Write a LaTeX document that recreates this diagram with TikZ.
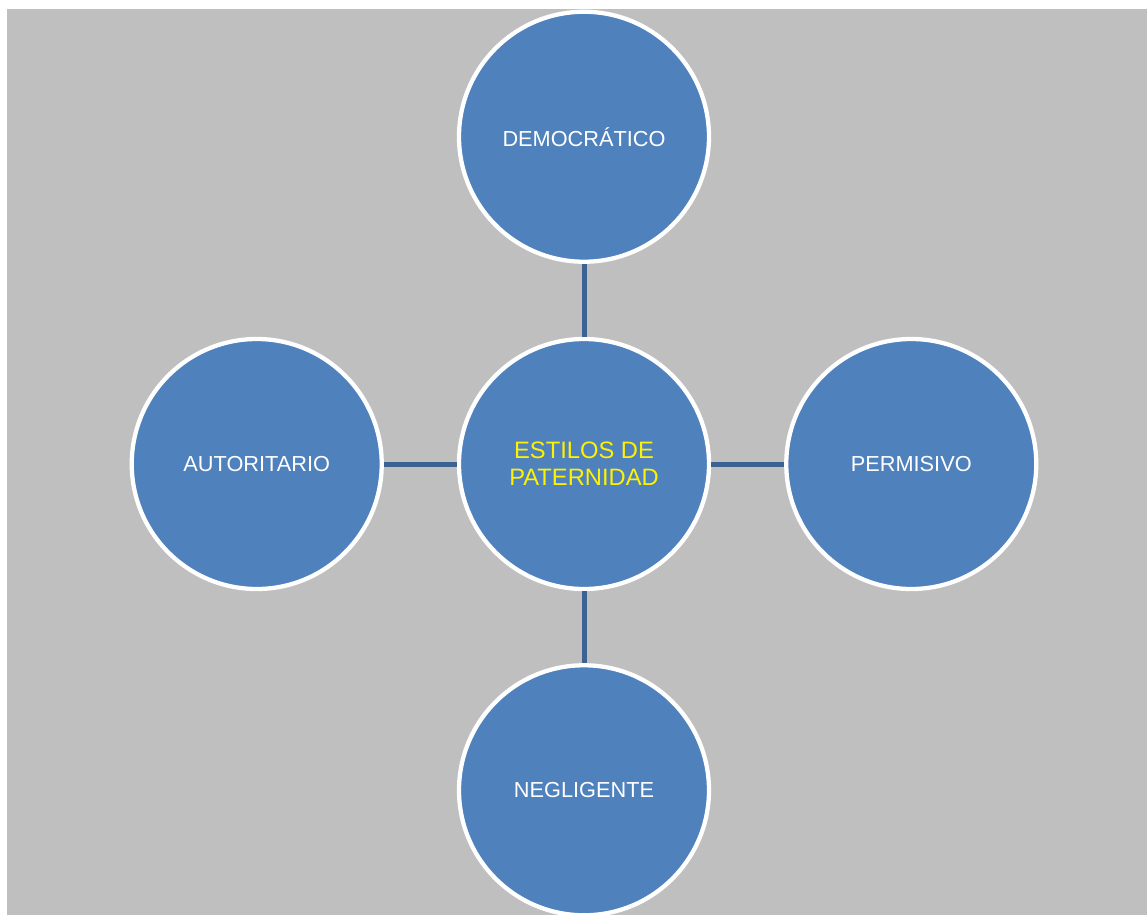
\documentclass[tikz,border=0pt]{standalone}
\usepackage{fontspec}
\setmainfont{Liberation Sans}
\usetikzlibrary{positioning,math}
\definecolor{bgGray}{RGB}{191,191,191}
\definecolor{circBlue}{RGB}{79,129,189}
\definecolor{linkBlue}{RGB}{60,98,148}

\begin{document}
\begin{tikzpicture}[x=0.75pt,y=-0.75pt]

\tikzmath{
	\R = 187.5pt;
}

\tikzset{style circle/.style={
    circle,
    draw=white,
    line width=3.2pt,
    fill=circBlue,
    minimum size=#1,
    inner sep=0pt,
    text=white,
    align=center,
    font=\fontsize{16.3}{19}\selectfont
  },
  style circle/.default=\R,
  link/.style={draw=linkBlue, line width=3.75pt}
}

\clip (0,0) rectangle (1147,915);
\fill[bgGray] (7,9) rectangle (1147,915);

\node[style circle, text=yellow, font=\fontsize{17.8}{20.5}\selectfont] (estilos) at (584,464) {ESTILOS DE\\PATERNIDAD};
\node[style circle, above=54.75pt of estilos] (democratico) {DEMOCRÁTICO};
\node[style circle, left=54.75pt of estilos] (autoritario) {AUTORITARIO};
\node[style circle, right=54.75pt of estilos] (permisivo) {PERMISIVO};
\node[style circle, below=54pt of estilos] (negligente) {NEGLIGENTE};

\draw[link] (estilos) -- (democratico);
\draw[link] (estilos) -- (autoritario);
\draw[link] (estilos) -- (permisivo);
\draw[link] (estilos) -- (negligente);

\end{tikzpicture}
\end{document}
